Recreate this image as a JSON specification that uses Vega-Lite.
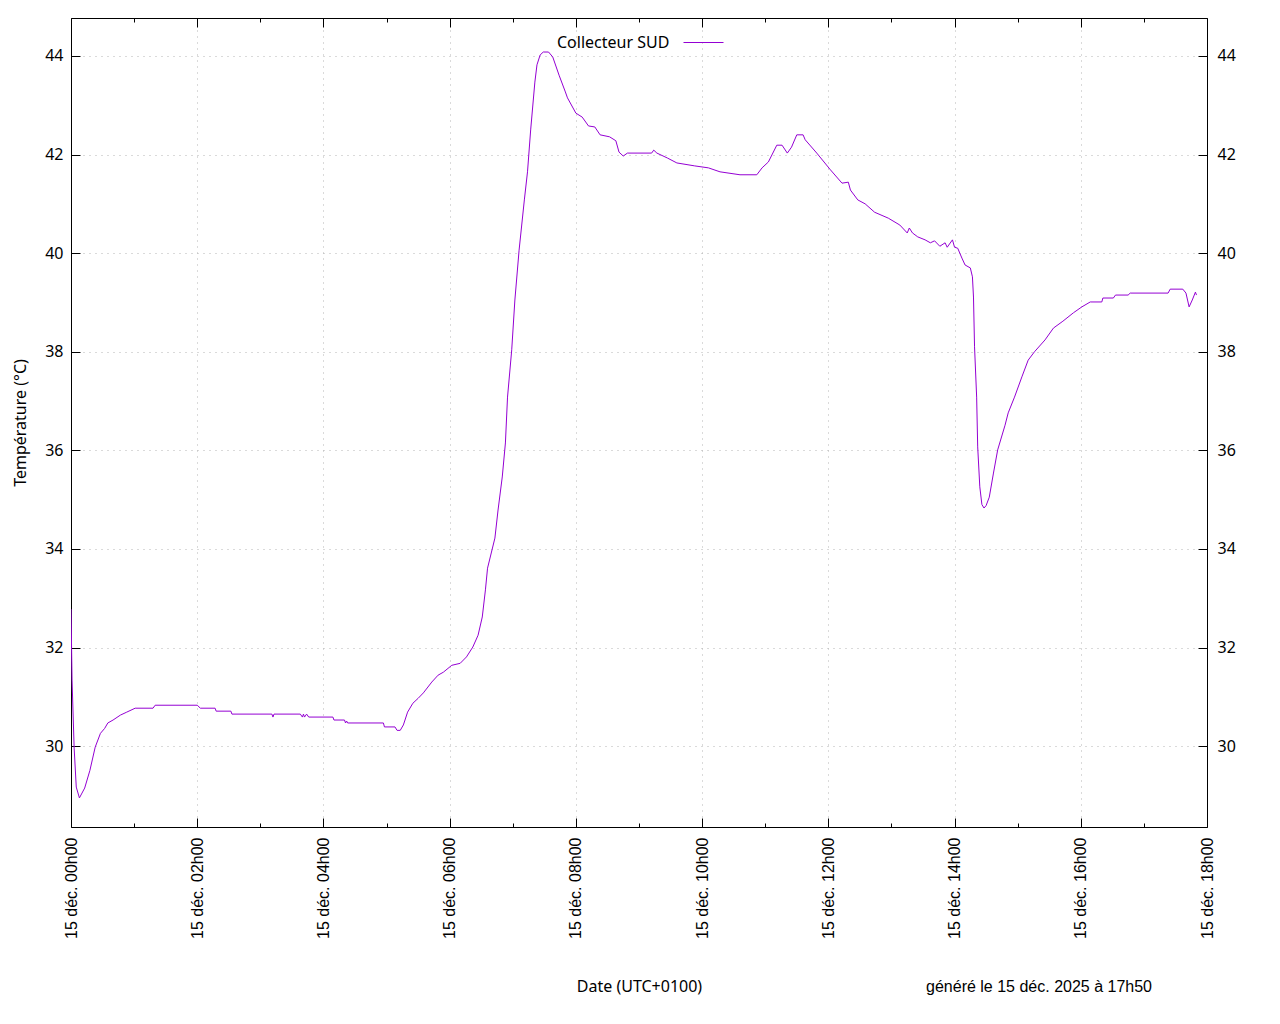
{
  "$schema": "https://vega.github.io/schema/vega-lite/v6.json",
  "width": 1136,
  "height": 809,
  "autosize": {"type": "none"},
  "padding": {"left": 71, "top": 18, "right": 73, "bottom": 197},
  "background": "white",
  "title": {
    "text": "généré le 15 déc. 2025 à 17h50",
    "orient": "bottom",
    "anchor": "end",
    "frame": "group",
    "font": "Liberation Sans",
    "fontSize": 16,
    "fontWeight": "normal",
    "color": "black",
    "dx": -55,
    "dy": -15,
    "offset": 0
  },
  "data": {
    "values": [
      {"t": "2025-12-15T00:00:00Z", "v": 32.78},
      {"t": "2025-12-15T00:01:00Z", "v": 31.34},
      {"t": "2025-12-15T00:03:00Z", "v": 29.96},
      {"t": "2025-12-15T00:05:00Z", "v": 29.17},
      {"t": "2025-12-15T00:08:00Z", "v": 28.95},
      {"t": "2025-12-15T00:10:00Z", "v": 29.03},
      {"t": "2025-12-15T00:13:00Z", "v": 29.15},
      {"t": "2025-12-15T00:18:00Z", "v": 29.51},
      {"t": "2025-12-15T00:23:00Z", "v": 29.98},
      {"t": "2025-12-15T00:28:00Z", "v": 30.26},
      {"t": "2025-12-15T00:32:00Z", "v": 30.36},
      {"t": "2025-12-15T00:35:00Z", "v": 30.47},
      {"t": "2025-12-15T00:40:00Z", "v": 30.53},
      {"t": "2025-12-15T00:47:00Z", "v": 30.63},
      {"t": "2025-12-15T00:53:00Z", "v": 30.69},
      {"t": "2025-12-15T01:01:00Z", "v": 30.77},
      {"t": "2025-12-15T01:18:00Z", "v": 30.77},
      {"t": "2025-12-15T01:20:00Z", "v": 30.83},
      {"t": "2025-12-15T02:00:00Z", "v": 30.83},
      {"t": "2025-12-15T02:03:00Z", "v": 30.77},
      {"t": "2025-12-15T02:17:00Z", "v": 30.77},
      {"t": "2025-12-15T02:18:00Z", "v": 30.71},
      {"t": "2025-12-15T02:32:00Z", "v": 30.71},
      {"t": "2025-12-15T02:33:00Z", "v": 30.65},
      {"t": "2025-12-15T03:11:00Z", "v": 30.65},
      {"t": "2025-12-15T03:12:00Z", "v": 30.59},
      {"t": "2025-12-15T03:13:00Z", "v": 30.65},
      {"t": "2025-12-15T03:38:00Z", "v": 30.65},
      {"t": "2025-12-15T03:40:00Z", "v": 30.59},
      {"t": "2025-12-15T03:41:00Z", "v": 30.65},
      {"t": "2025-12-15T03:42:00Z", "v": 30.59},
      {"t": "2025-12-15T03:44:00Z", "v": 30.65},
      {"t": "2025-12-15T03:46:00Z", "v": 30.59},
      {"t": "2025-12-15T04:09:00Z", "v": 30.59},
      {"t": "2025-12-15T04:10:00Z", "v": 30.53},
      {"t": "2025-12-15T04:20:00Z", "v": 30.53},
      {"t": "2025-12-15T04:21:00Z", "v": 30.47},
      {"t": "2025-12-15T04:22:00Z", "v": 30.51},
      {"t": "2025-12-15T04:23:00Z", "v": 30.47},
      {"t": "2025-12-15T04:57:00Z", "v": 30.47},
      {"t": "2025-12-15T04:58:00Z", "v": 30.39},
      {"t": "2025-12-15T05:08:00Z", "v": 30.39},
      {"t": "2025-12-15T05:10:00Z", "v": 30.32},
      {"t": "2025-12-15T05:13:00Z", "v": 30.32},
      {"t": "2025-12-15T05:16:00Z", "v": 30.43},
      {"t": "2025-12-15T05:20:00Z", "v": 30.69},
      {"t": "2025-12-15T05:25:00Z", "v": 30.87},
      {"t": "2025-12-15T05:30:00Z", "v": 30.97},
      {"t": "2025-12-15T05:35:00Z", "v": 31.08},
      {"t": "2025-12-15T05:43:00Z", "v": 31.30},
      {"t": "2025-12-15T05:49:00Z", "v": 31.44},
      {"t": "2025-12-15T05:54:00Z", "v": 31.50},
      {"t": "2025-12-15T06:02:00Z", "v": 31.64},
      {"t": "2025-12-15T06:10:00Z", "v": 31.68},
      {"t": "2025-12-15T06:16:00Z", "v": 31.81},
      {"t": "2025-12-15T06:22:00Z", "v": 32.01},
      {"t": "2025-12-15T06:27:00Z", "v": 32.25},
      {"t": "2025-12-15T06:31:00Z", "v": 32.62},
      {"t": "2025-12-15T06:34:00Z", "v": 33.17},
      {"t": "2025-12-15T06:36:00Z", "v": 33.61},
      {"t": "2025-12-15T06:43:00Z", "v": 34.22},
      {"t": "2025-12-15T06:46:00Z", "v": 34.79},
      {"t": "2025-12-15T06:50:00Z", "v": 35.46},
      {"t": "2025-12-15T06:53:00Z", "v": 36.15},
      {"t": "2025-12-15T06:55:00Z", "v": 37.08},
      {"t": "2025-12-15T06:59:00Z", "v": 38.04},
      {"t": "2025-12-15T07:02:00Z", "v": 39.05},
      {"t": "2025-12-15T07:06:00Z", "v": 40.06},
      {"t": "2025-12-15T07:11:00Z", "v": 41.08},
      {"t": "2025-12-15T07:14:00Z", "v": 41.65},
      {"t": "2025-12-15T07:17:00Z", "v": 42.50},
      {"t": "2025-12-15T07:21:00Z", "v": 43.47},
      {"t": "2025-12-15T07:23:00Z", "v": 43.82},
      {"t": "2025-12-15T07:26:00Z", "v": 44.02},
      {"t": "2025-12-15T07:29:00Z", "v": 44.08},
      {"t": "2025-12-15T07:34:00Z", "v": 44.08},
      {"t": "2025-12-15T07:38:00Z", "v": 43.98},
      {"t": "2025-12-15T07:44:00Z", "v": 43.61},
      {"t": "2025-12-15T07:50:00Z", "v": 43.27},
      {"t": "2025-12-15T07:52:00Z", "v": 43.15},
      {"t": "2025-12-15T08:00:00Z", "v": 42.84},
      {"t": "2025-12-15T08:06:00Z", "v": 42.76},
      {"t": "2025-12-15T08:12:00Z", "v": 42.58},
      {"t": "2025-12-15T08:18:00Z", "v": 42.56},
      {"t": "2025-12-15T08:23:00Z", "v": 42.40},
      {"t": "2025-12-15T08:32:00Z", "v": 42.36},
      {"t": "2025-12-15T08:38:00Z", "v": 42.28},
      {"t": "2025-12-15T08:41:00Z", "v": 42.05},
      {"t": "2025-12-15T08:45:00Z", "v": 41.97},
      {"t": "2025-12-15T08:49:00Z", "v": 42.03},
      {"t": "2025-12-15T09:12:00Z", "v": 42.03},
      {"t": "2025-12-15T09:14:00Z", "v": 42.09},
      {"t": "2025-12-15T09:17:00Z", "v": 42.03},
      {"t": "2025-12-15T09:27:00Z", "v": 41.93},
      {"t": "2025-12-15T09:36:00Z", "v": 41.83},
      {"t": "2025-12-15T09:53:00Z", "v": 41.77},
      {"t": "2025-12-15T10:06:00Z", "v": 41.73},
      {"t": "2025-12-15T10:17:00Z", "v": 41.65},
      {"t": "2025-12-15T10:36:00Z", "v": 41.59},
      {"t": "2025-12-15T10:52:00Z", "v": 41.59},
      {"t": "2025-12-15T10:57:00Z", "v": 41.73},
      {"t": "2025-12-15T11:03:00Z", "v": 41.85},
      {"t": "2025-12-15T11:11:00Z", "v": 42.19},
      {"t": "2025-12-15T11:16:00Z", "v": 42.19},
      {"t": "2025-12-15T11:21:00Z", "v": 42.03},
      {"t": "2025-12-15T11:25:00Z", "v": 42.15},
      {"t": "2025-12-15T11:30:00Z", "v": 42.40},
      {"t": "2025-12-15T11:36:00Z", "v": 42.40},
      {"t": "2025-12-15T11:38:00Z", "v": 42.30},
      {"t": "2025-12-15T11:49:00Z", "v": 42.03},
      {"t": "2025-12-15T12:02:00Z", "v": 41.69},
      {"t": "2025-12-15T12:13:00Z", "v": 41.42},
      {"t": "2025-12-15T12:19:00Z", "v": 41.44},
      {"t": "2025-12-15T12:21:00Z", "v": 41.28},
      {"t": "2025-12-15T12:28:00Z", "v": 41.08},
      {"t": "2025-12-15T12:35:00Z", "v": 41.00},
      {"t": "2025-12-15T12:44:00Z", "v": 40.83},
      {"t": "2025-12-15T12:57:00Z", "v": 40.71},
      {"t": "2025-12-15T13:08:00Z", "v": 40.57},
      {"t": "2025-12-15T13:15:00Z", "v": 40.41},
      {"t": "2025-12-15T13:17:00Z", "v": 40.51},
      {"t": "2025-12-15T13:20:00Z", "v": 40.41},
      {"t": "2025-12-15T13:25:00Z", "v": 40.33},
      {"t": "2025-12-15T13:32:00Z", "v": 40.27},
      {"t": "2025-12-15T13:37:00Z", "v": 40.21},
      {"t": "2025-12-15T13:41:00Z", "v": 40.25},
      {"t": "2025-12-15T13:46:00Z", "v": 40.14},
      {"t": "2025-12-15T13:51:00Z", "v": 40.21},
      {"t": "2025-12-15T13:53:00Z", "v": 40.12},
      {"t": "2025-12-15T13:58:00Z", "v": 40.27},
      {"t": "2025-12-15T14:00:00Z", "v": 40.12},
      {"t": "2025-12-15T14:03:00Z", "v": 40.10},
      {"t": "2025-12-15T14:07:00Z", "v": 39.90},
      {"t": "2025-12-15T14:10:00Z", "v": 39.76},
      {"t": "2025-12-15T14:15:00Z", "v": 39.70},
      {"t": "2025-12-15T14:17:00Z", "v": 39.52},
      {"t": "2025-12-15T14:18:00Z", "v": 39.11},
      {"t": "2025-12-15T14:19:00Z", "v": 38.10},
      {"t": "2025-12-15T14:21:00Z", "v": 37.08},
      {"t": "2025-12-15T14:22:00Z", "v": 36.07},
      {"t": "2025-12-15T14:24:00Z", "v": 35.26},
      {"t": "2025-12-15T14:26:00Z", "v": 34.90},
      {"t": "2025-12-15T14:28:00Z", "v": 34.83},
      {"t": "2025-12-15T14:30:00Z", "v": 34.88},
      {"t": "2025-12-15T14:33:00Z", "v": 35.05},
      {"t": "2025-12-15T14:37:00Z", "v": 35.54},
      {"t": "2025-12-15T14:41:00Z", "v": 36.01},
      {"t": "2025-12-15T14:48:00Z", "v": 36.51},
      {"t": "2025-12-15T14:51:00Z", "v": 36.76},
      {"t": "2025-12-15T14:57:00Z", "v": 37.08},
      {"t": "2025-12-15T15:04:00Z", "v": 37.49},
      {"t": "2025-12-15T15:10:00Z", "v": 37.83},
      {"t": "2025-12-15T15:16:00Z", "v": 38.00},
      {"t": "2025-12-15T15:26:00Z", "v": 38.24},
      {"t": "2025-12-15T15:34:00Z", "v": 38.48},
      {"t": "2025-12-15T15:43:00Z", "v": 38.62},
      {"t": "2025-12-15T15:53:00Z", "v": 38.79},
      {"t": "2025-12-15T16:01:00Z", "v": 38.91},
      {"t": "2025-12-15T16:09:00Z", "v": 39.01},
      {"t": "2025-12-15T16:20:00Z", "v": 39.01},
      {"t": "2025-12-15T16:21:00Z", "v": 39.09},
      {"t": "2025-12-15T16:31:00Z", "v": 39.09},
      {"t": "2025-12-15T16:33:00Z", "v": 39.15},
      {"t": "2025-12-15T16:45:00Z", "v": 39.15},
      {"t": "2025-12-15T16:47:00Z", "v": 39.19},
      {"t": "2025-12-15T17:23:00Z", "v": 39.19},
      {"t": "2025-12-15T17:25:00Z", "v": 39.27},
      {"t": "2025-12-15T17:37:00Z", "v": 39.27},
      {"t": "2025-12-15T17:40:00Z", "v": 39.19},
      {"t": "2025-12-15T17:43:00Z", "v": 38.91},
      {"t": "2025-12-15T17:46:00Z", "v": 39.05},
      {"t": "2025-12-15T17:49:00Z", "v": 39.21},
      {"t": "2025-12-15T17:50:00Z", "v": 39.15}
    ]
  },
  "layer": [
    {
      "mark": {"type": "line", "strokeWidth": 1, "clip": true},
      "encoding": {
        "x": {
          "field": "t",
          "type": "temporal",
          "scale": {
            "type": "utc",
            "domain": [1765756800000, 1765821600000],
            "nice": false
          },
          "axis": {
            "orient": "bottom",
            "values": [1765756800000, 1765760400000, 1765764000000, 1765767600000, 1765771200000, 1765774800000, 1765778400000, 1765782000000, 1765785600000, 1765789200000, 1765792800000, 1765796400000, 1765800000000, 1765803600000, 1765807200000, 1765810800000, 1765814400000, 1765818000000, 1765821600000],
            "labelExpr": "utchours(datum.value) % 2 == 0 ? utcFormat(datum.value, '%d déc. %Hh%M') : ''",
            "labelAngle": 270,
            "labelAlign": "right",
            "labelBaseline": "middle",
            "labelFont": "Liberation Sans",
            "labelFontSize": 16,
            "labelColor": "black",
            "labelPadding": 19,
            "labelFlush": false,
            "labelOverlap": false,
            "labelBound": false,
            "tickSize": {"condition": {"test": "utchours(datum.value) % 2 == 1", "value": -4}, "value": -9},
            "tickColor": "black",
            "domainColor": "black",
            "grid": true,
            "gridColor": "#b4b4b4",
            "gridDash": [1, 5],
            "gridOpacity": {"condition": {"test": "utchours(datum.value) % 2 == 1", "value": 0}, "value": 1},
            "title": "Date (UTC+0100)",
            "titleFont": "Noto Sans",
            "titleFontSize": 16,
            "titleFontWeight": "normal",
            "titleColor": "black",
            "titlePadding": 40
          }
        },
        "y": {
          "field": "v",
          "type": "quantitative",
          "scale": {"domain": [28.36, 44.77], "nice": false, "zero": false},
          "axis": {
            "orient": "left",
            "values": [30, 32, 34, 36, 38, 40, 42, 44],
            "labelFont": "Noto Sans",
            "labelFontSize": 16,
            "labelColor": "black",
            "labelPadding": 17,
            "labelFlush": false,
            "tickSize": -9,
            "tickColor": "black",
            "domainColor": "black",
            "grid": true,
            "gridColor": "#b4b4b4",
            "gridDash": [1, 5],
            "title": "Température (°C)",
            "titleFont": "Noto Sans",
            "titleFontSize": 16,
            "titleFontWeight": "normal",
            "titleColor": "black",
            "titlePadding": 16
          }
        },
        "color": {
          "datum": "Collecteur SUD",
          "type": "nominal",
          "scale": {"range": ["#9400d3"]},
          "legend": {
            "orient": "none",
            "legendX": 486,
            "legendY": 4,
            "padding": 0,
            "title": "Collecteur SUD",
            "titleOrient": "left",
            "titleAnchor": "middle",
            "titleBaseline": "top",
            "titleFont": "Noto Sans",
            "titleFontSize": 16,
            "titleFontWeight": "normal",
            "titleColor": "black",
            "titlePadding": 13,
            "labelExpr": "''",
            "symbolType": "stroke",
            "symbolSize": 1600,
            "symbolStrokeWidth": 1
          }
        }
      }
    },
    {
      "mark": {"type": "line", "opacity": 0},
      "encoding": {
        "x": {
          "field": "t",
          "type": "temporal",
          "axis": {
            "orient": "top",
            "values": [1765756800000, 1765760400000, 1765764000000, 1765767600000, 1765771200000, 1765774800000, 1765778400000, 1765782000000, 1765785600000, 1765789200000, 1765792800000, 1765796400000, 1765800000000, 1765803600000, 1765807200000, 1765810800000, 1765814400000, 1765818000000, 1765821600000],
            "labels": false,
            "tickSize": {"condition": {"test": "utchours(datum.value) % 2 == 1", "value": -4}, "value": -9},
            "tickColor": "black",
            "domainColor": "black",
            "grid": false,
            "title": null
          }
        },
        "y": {
          "field": "v",
          "type": "quantitative",
          "axis": {
            "orient": "right",
            "values": [30, 32, 34, 36, 38, 40, 42, 44],
            "labelFont": "Noto Sans",
            "labelFontSize": 16,
            "labelColor": "black",
            "labelPadding": 19,
            "labelFlush": false,
            "tickSize": -9,
            "tickColor": "black",
            "domainColor": "black",
            "grid": false,
            "title": null
          }
        }
      }
    }
  ],
  "resolve": {"axis": {"x": "independent", "y": "independent"}}
}
